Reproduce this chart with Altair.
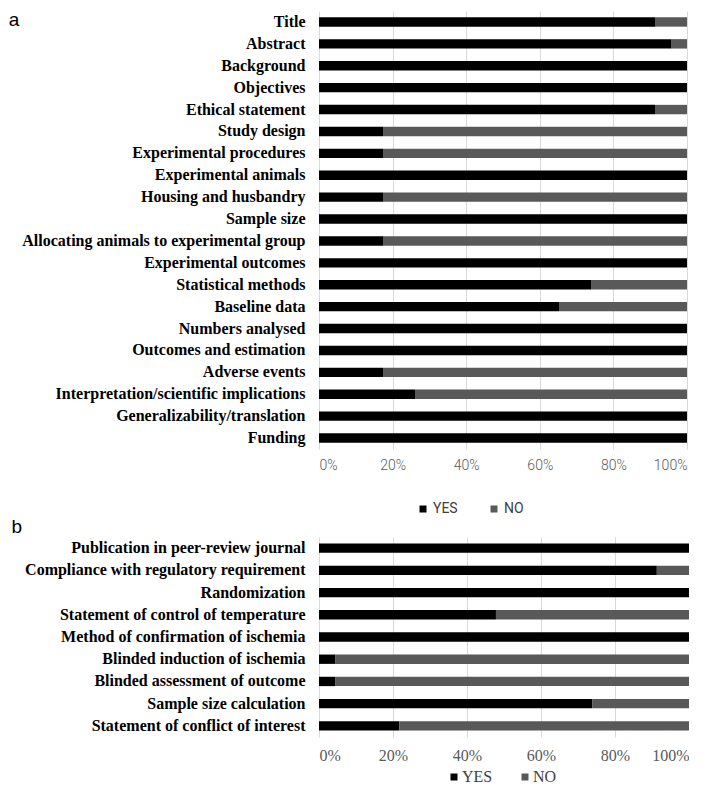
import altair as alt
import pandas as pd

# ---------------- data ----------------
cats_a = [
    "Title", "Abstract", "Background", "Objectives", "Ethical statement",
    "Study design", "Experimental procedures", "Experimental animals",
    "Housing and husbandry", "Sample size",
    "Allocating animals to experimental group", "Experimental outcomes",
    "Statistical methods", "Baseline data", "Numbers analysed",
    "Outcomes and estimation", "Adverse events",
    "Interpretation/scientific implications", "Generalizability/translation",
    "Funding",
]
yes_a = [21, 22, 23, 23, 21, 4, 4, 23, 4, 23, 4, 23, 17, 15, 23, 23, 4, 6, 23, 23]
no_a = [2, 1, 0, 0, 2, 19, 19, 0, 19, 0, 19, 0, 6, 8, 0, 0, 19, 17, 0, 0]

cats_b = [
    "Publication in peer-review journal",
    "Compliance with regulatory requirement",
    "Randomization",
    "Statement of control of temperature",
    "Method of confirmation of ischemia",
    "Blinded induction of ischemia",
    "Blinded assessment of outcome ",
    "Sample size calculation",
    "Statement of conflict of interest",
]
yes_b = [23, 21, 23, 11, 23, 1, 1, 17, 5]
no_b = [0, 2, 0, 12, 0, 22, 22, 6, 18]

series = ["YES", "NO"]
colors = ["#000000", "#595959"]
tick_values = [0, 0.2, 0.4, 0.6, 0.8, 1.0]


def long_df(cats, yes, no):
    n = len(cats)
    return pd.DataFrame({
        "item": cats + cats,
        "answer": ["YES"] * n + ["NO"] * n,
        "count": yes + no,
        "ord": [0] * n + [1] * n,
    })


def panel(cats, yes, no, letter, width, height, pad_inner,
          xfont, xweight, xsize, xcolor, xpad,
          lfont, lsize, lcolor, legend_x, legend_y, col_pad, lab_off,
          title_offset):
    df = long_df(cats, yes, no)
    return alt.Chart(
        df,
        title=alt.Title(letter, anchor="start", frame="bounds",
                        font="Liberation Sans", fontSize=19,
                        fontWeight="normal", color="#000000",
                        baseline="alphabetic", offset=title_offset, dx=-13),
    ).mark_bar().encode(
        y=alt.Y("item:N", sort=cats, title=None,
                scale=alt.Scale(paddingInner=pad_inner,
                                paddingOuter=pad_inner / 2),
                axis=alt.Axis(domain=False, ticks=False, grid=False,
                              labelFont="Liberation Serif",
                              labelFontWeight="bold", labelFontSize=16,
                              labelColor="#000000", labelPadding=14,
                              labelLimit=0)),
        x=alt.X("count:Q", stack="normalize", title=None,
                scale=alt.Scale(domain=[0, 1], nice=False),
                axis=alt.Axis(format=".0%", values=tick_values,
                              domain=False, ticks=False, grid=True,
                              gridColor="#d9d9d9", gridWidth=1,
                              labelFont=xfont, labelFontWeight=xweight,
                              labelFontSize=xsize, labelColor=xcolor,
                              labelPadding=xpad)),
        color=alt.Color("answer:N",
                        scale=alt.Scale(domain=series, range=colors),
                        legend=alt.Legend(title=None, orient="none",
                                          legendX=legend_x, legendY=legend_y,
                                          direction="horizontal",
                                          symbolType="square", symbolSize=49,
                                          symbolStrokeWidth=0,
                                          labelFont=lfont, labelFontSize=lsize,
                                          labelColor=lcolor,
                                          labelOffset=lab_off,
                                          columnPadding=col_pad, padding=0)),
        order=alt.Order("ord:Q"),
    ).properties(width=width, height=height)


H_A = 438
H_B = 200

chart_a = panel(cats_a, yes_a, no_a, "a", 368, H_A, 0.57,
                "Roboto", 300, 14, "#595959", 9,
                "Roboto", 14, "#404040", 97, H_A + 53, 29, 3, -34)
chart_b = panel(cats_b, yes_b, no_b, "b", 370, H_B, 0.58,
                "Liberation Serif", "normal", 16, "#595959", 10,
                "Liberation Serif", 16, "#404040", 127, H_B + 32, 24, 0, -15)

chart = alt.vconcat(chart_a, chart_b, spacing=2).resolve_scale(
    color="independent"
).resolve_legend(color="independent").configure_view(
    stroke=None
).properties(padding={"left": 0, "top": 3, "right": 0, "bottom": 0})

chart.save("out.html", embed_options={"renderer": "svg", "actions": False})
